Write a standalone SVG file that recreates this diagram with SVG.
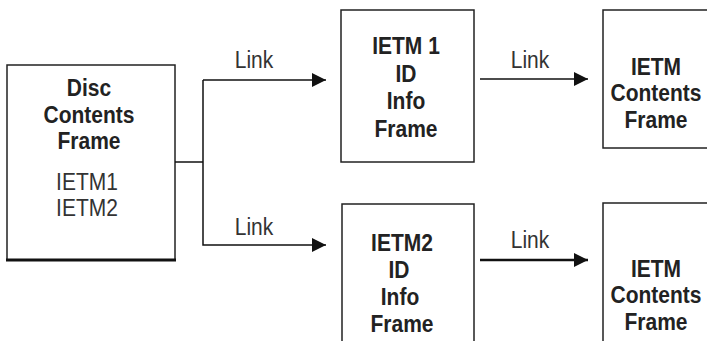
<svg xmlns="http://www.w3.org/2000/svg" width="707" height="341" viewBox="0 0 707 341">
<style>
.box{fill:#fff;stroke:#222;stroke-width:1.5}
.b{font-family:"Liberation Sans",Arial,sans-serif;font-weight:bold;font-size:21px;fill:#222;text-anchor:middle}
.r{font-family:"Liberation Sans",Arial,sans-serif;font-size:21px;fill:#333;text-anchor:middle}
.ln{fill:none;stroke:#111;stroke-width:1.5}
</style>
<defs>
<marker id="ah" markerUnits="userSpaceOnUse" markerWidth="16" markerHeight="16" refX="14" refY="7" orient="auto">
<path d="M0,0 L14,7 L0,14 Z" fill="#111"/>
</marker>
</defs>
<rect width="707" height="341" fill="#fff"/>
<g id="disc">
<rect class="box" x="7" y="65" width="168" height="195"/>
<line x1="6" y1="260" x2="176" y2="260" stroke="#111" stroke-width="3"/>
<text class="b" transform="translate(89,96) scale(1,1.18)">Disc</text>
<text class="b" transform="translate(89,123) scale(1,1.18)">Contents</text>
<text class="b" transform="translate(89,149) scale(1,1.18)">Frame</text>
<text class="r" transform="translate(87,190) scale(1,1.12)">IETM1</text>
<text class="r" transform="translate(87,216) scale(1,1.12)">IETM2</text>
</g>
<g id="info1">
<rect class="box" x="341" y="10" width="133" height="152"/>
<text class="b" transform="translate(406,54) scale(1,1.18)">IETM 1</text>
<text class="b" transform="translate(406,82) scale(1,1.18)">ID</text>
<text class="b" transform="translate(406,109) scale(1,1.18)">Info</text>
<text class="b" transform="translate(406,137) scale(1,1.18)">Frame</text>
</g>
<g id="info2">
<rect class="box" x="342" y="204" width="132" height="150"/>
<text class="b" transform="translate(402,251) scale(1,1.18)">IETM2</text>
<text class="b" transform="translate(399,278) scale(1,1.18)">ID</text>
<text class="b" transform="translate(400,305) scale(1,1.18)">Info</text>
<text class="b" transform="translate(402,332) scale(1,1.18)">Frame</text>
</g>
<g id="contents1">
<rect class="box" x="603" y="10" width="110" height="138"/>
<text class="b" transform="translate(656,75) scale(1,1.18)">IETM</text>
<text class="b" transform="translate(656,101) scale(1,1.18)">Contents</text>
<text class="b" transform="translate(656,128) scale(1,1.18)">Frame</text>
</g>
<g id="contents2">
<rect class="box" x="603" y="203" width="110" height="150"/>
<text class="b" transform="translate(656,277) scale(1,1.18)">IETM</text>
<text class="b" transform="translate(656,303) scale(1,1.18)">Contents</text>
<text class="b" transform="translate(656,330) scale(1,1.18)">Frame</text>
</g>
<g id="connectors">
<polyline class="ln" points="175,162 203,162"/>
<polyline class="ln" points="203,80 203,245 326,245" marker-end="url(#ah)"/>
<line class="ln" x1="203" y1="80" x2="326" y2="80" marker-end="url(#ah)"/>
<line class="ln" x1="480" y1="79" x2="588" y2="79" marker-end="url(#ah)"/>
<line x1="480" y1="260" x2="588" y2="260" stroke="#111" stroke-width="2.5" marker-end="url(#ah)"/>
<text class="r" transform="translate(254,68) scale(1,1.12)">Link</text>
<text class="r" transform="translate(254,235) scale(1,1.12)">Link</text>
<text class="r" transform="translate(530,68) scale(1,1.12)">Link</text>
<text class="r" transform="translate(530,248) scale(1,1.12)">Link</text>
</g>
</svg>
